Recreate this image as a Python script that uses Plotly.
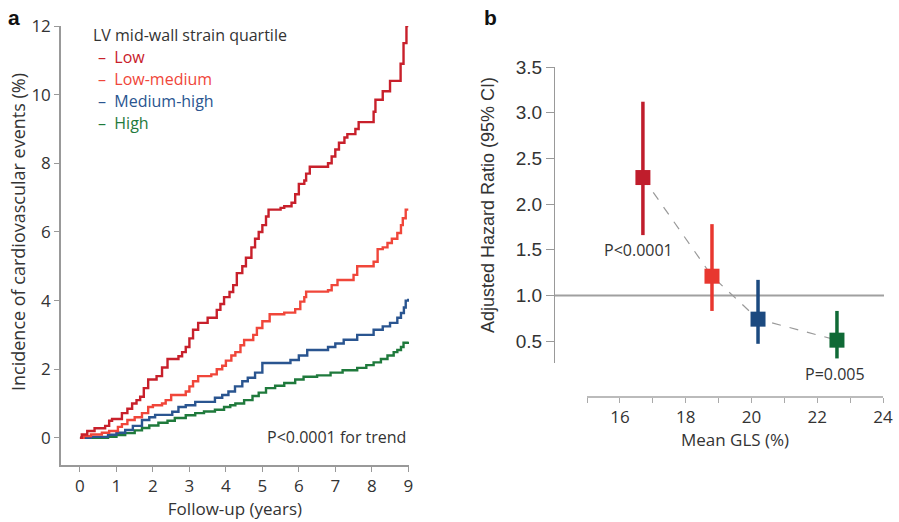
import plotly.graph_objects as go

W, H = 899, 522

# ---------------- Panel a data (Kaplan-Meier style cumulative incidence, %) -------------
low_t = [0, 0.05, 0.2, 0.4, 0.69, 0.8, 0.88, 1.15, 1.3, 1.43, 1.55, 1.65, 1.75, 1.87, 2.1, 2.25,
         2.4, 2.7, 2.8, 2.9, 3.0, 3.1, 3.24, 3.5, 3.75, 3.85, 3.95, 4.1, 4.2, 4.3, 4.45, 4.55,
         4.7, 4.8, 4.9, 5.0, 5.1, 5.17, 5.5, 5.6, 5.8, 5.9, 6.0, 6.15, 6.2, 6.3, 6.8, 6.9, 7.0,
         7.1, 7.25, 7.33, 7.55, 7.64, 8.05, 8.1, 8.3, 8.5, 8.79, 8.87, 8.95, 9.0]
low_v = [0, 0.1, 0.2, 0.28, 0.35, 0.5, 0.55, 0.72, 0.85, 1.0, 1.1, 1.2, 1.45, 1.7, 1.8, 2.05,
         2.3, 2.38, 2.5, 2.65, 2.9, 3.15, 3.35, 3.5, 3.73, 3.9, 4.1, 4.25, 4.45, 4.8, 5.0, 5.25,
         5.55, 5.8, 6.0, 6.2, 6.45, 6.65, 6.7, 6.75, 6.85, 7.1, 7.4, 7.5, 7.7, 7.9, 8.0, 8.2, 8.4,
         8.6, 8.75, 8.85, 9.0, 9.2, 9.5, 9.85, 10.1, 10.4, 10.9, 11.5, 12.0, 12.0]

lowmed_t = [0, 0.1, 0.3, 0.6, 0.8, 1.04, 1.15, 1.3, 1.5, 1.7, 1.87, 2.0, 2.25, 2.35, 2.5, 2.9,
            3.0, 3.1, 3.24, 3.6, 3.75, 3.9, 4.0, 4.15, 4.26, 4.4, 4.5, 4.75, 4.85, 5.0, 5.2,
            5.6, 5.9, 6.04, 6.15, 6.2, 6.8, 6.9, 7.06, 7.5, 7.6, 8.05, 8.16, 8.3, 8.43, 8.55,
            8.7, 8.8, 8.85, 8.93, 9.0]
lowmed_v = [0, 0.05, 0.1, 0.15, 0.2, 0.32, 0.4, 0.52, 0.6, 0.72, 0.9, 0.95, 1.0, 1.1, 1.25, 1.35,
            1.5, 1.65, 1.8, 1.85, 2.0, 2.1, 2.25, 2.4, 2.5, 2.7, 2.85, 3.0, 3.2, 3.4, 3.6,
            3.65, 3.75, 3.97, 4.1, 4.26, 4.3, 4.45, 4.6, 4.75, 5.0, 5.13, 5.5, 5.55, 5.68, 5.8,
            5.97, 6.2, 6.4, 6.65, 6.65]

medhigh_t = [0, 0.3, 0.77, 1.0, 1.24, 1.45, 1.7, 1.9, 2.06, 2.53, 2.7, 2.9, 3.16, 3.7, 3.9, 4.07,
             4.25, 4.45, 4.6, 4.8, 5.0, 5.77, 6.0, 6.23, 6.8, 7.0, 7.23, 7.6, 8.05, 8.3, 8.5,
             8.7, 8.8, 8.88, 8.93, 9.0]
medhigh_v = [0, 0.03, 0.09, 0.15, 0.23, 0.35, 0.52, 0.6, 0.67, 0.76, 0.9, 0.95, 1.05, 1.17, 1.25, 1.35,
             1.5, 1.65, 1.75, 1.9, 2.18, 2.27, 2.4, 2.56, 2.65, 2.75, 2.86, 3.0, 3.15, 3.25, 3.35,
             3.5, 3.64, 3.8, 4.0, 4.05]

high_t = [0, 0.77, 1.0, 1.24, 1.5, 1.7, 1.9, 2.15, 2.4, 2.6, 2.9, 3.16, 3.4, 3.7, 3.95, 4.12, 4.26,
          4.5, 4.73, 4.9, 5.1, 5.35, 5.6, 5.9, 6.13, 6.5, 6.87, 7.2, 7.6, 7.85, 8.05, 8.25, 8.43,
          8.6, 8.7, 8.8, 8.87, 9.0]
high_v = [0, 0.03, 0.08, 0.14, 0.22, 0.29, 0.36, 0.44, 0.5, 0.58, 0.66, 0.72, 0.77, 0.82, 0.9, 0.95, 1.0,
          1.1, 1.22, 1.32, 1.45, 1.52, 1.6, 1.7, 1.78, 1.82, 1.9, 1.97, 2.04, 2.12, 2.2, 2.3, 2.4,
          2.5, 2.56, 2.65, 2.77, 2.8]

legend_title = "LV mid-wall strain quartile"
quartiles = ["Low", "Low-medium", "Medium-high", "High"]
colors_a = ["#c8202b", "#f0463a", "#2a5590", "#1f7a3c"]

# ---------------- Panel b data ----------------
gls = [16.7, 18.8, 20.2, 22.6]
hr = [2.29, 1.21, 0.74, 0.51]
ci_low = [1.66, 0.83, 0.47, 0.31]
ci_high = [3.12, 1.78, 1.17, 0.83]
colors_b = ["#c01d2c", "#e8372f", "#1c4a80", "#106a36"]

def fx(px):
    return px / W

def fy(py):
    return 1 - py / H

fig = go.Figure()

series = [(low_t, low_v), (lowmed_t, lowmed_v), (medhigh_t, medhigh_v), (high_t, high_v)]
for (t, v), name, c in reversed(list(zip(series, quartiles, colors_a))):
    fig.add_trace(go.Scatter(x=t, y=v, mode="lines", line=dict(color=c, width=2.4, shape="hv"),
                             name=name, xaxis="x", yaxis="y", showlegend=False))

# panel b dashed connector
fig.add_trace(go.Scatter(x=gls, y=hr, mode="lines", line=dict(color="#999999", width=1.2, dash="dash"),
                         xaxis="x2", yaxis="y2", showlegend=False))
# error bars + squares
for i in range(len(gls)):
    fig.add_trace(go.Scatter(x=[gls[i], gls[i]], y=[ci_low[i], ci_high[i]], mode="lines",
                             line=dict(color=colors_b[i], width=3.5), xaxis="x2", yaxis="y2",
                             showlegend=False))
fig.add_trace(go.Scatter(x=gls, y=hr, mode="markers",
                         marker=dict(symbol="square", size=15, color=colors_b, line=dict(width=0)),
                         xaxis="x2", yaxis="y2", showlegend=False))

tickfont_a = dict(family="Open Sans", size=17, color="#333333")
tickfont_b = dict(family="Liberation Sans", size=19, color="#333333")
axis_col = "#999999"

fig.update_layout(
    width=W, height=H, margin=dict(l=0, r=0, t=0, b=0),
    paper_bgcolor="white", plot_bgcolor="white", showlegend=False,
    xaxis=dict(domain=[fx(61), fx(409)], range=[-0.52, 9.02], tickvals=list(range(10)),
               ticks="outside", ticklen=5, tickcolor=axis_col, showline=True, linecolor=axis_col,
               linewidth=1.5, showgrid=False, zeroline=False, tickfont=tickfont_a,
               title=dict(text="Follow-up (years)", font=dict(family="Open Sans", size=17, color="#333333"),
                          standoff=5),
               anchor="y", automargin=False),
    yaxis=dict(domain=[fy(465), fy(26)], range=[-0.79, 12], tickvals=list(range(0, 13, 2)),
               ticks="outside", ticklen=5, tickcolor=axis_col, showline=True, linecolor=axis_col,
               linewidth=1.5, showgrid=False, zeroline=False, tickfont=tickfont_a,
               anchor="x", automargin=False),
    xaxis2=dict(domain=[fx(587), fx(883)], range=[15, 24], tickvals=list(range(15, 25)),
                ticktext=["" if k % 2 else str(k) for k in range(15, 25)],
                ticks="outside", ticklen=5, tickcolor="#aaaaaa", showline=True, linecolor="#bbbbbb",
                linewidth=1.5, showgrid=False, zeroline=False,
                tickfont=dict(family="Open Sans", size=17, color="#333333"),
                title=dict(text="Mean GLS (%)", font=dict(family="Open Sans", size=17, color="#333333"), standoff=3),
                anchor="free", position=fy(397), automargin=False),
    yaxis2=dict(domain=[fy(363), fy(67)], range=[0.26, 3.5], tickvals=[0.5, 1.0, 1.5, 2.0, 2.5, 3.0, 3.5],
                ticktext=["0.5", "1.0", "1.5", "2.0", "2.5", "3.0", "3.5"],
                ticks="outside", ticklen=8, tickcolor=axis_col, showline=True, linecolor=axis_col,
                linewidth=1.2, showgrid=False, zeroline=False, tickfont=tickfont_b,
                anchor="free", position=fx(554), automargin=False),
)

# reference line HR = 1
fig.add_shape(type="line", xref="paper", yref="y2", x0=fx(554), x1=fx(884), y0=1.0, y1=1.0,
              line=dict(color="#a0a0a0", width=2), layer="below")

# axis titles positioned as in the reference
fig.add_annotation(xref="paper", yref="paper", x=fx(18), y=fy(232), xanchor="center", yanchor="middle",
                   text="Incidence of cardiovascular events (%)", textangle=-90, showarrow=False,
                   font=dict(family="Open Sans", size=18, color="#333333"))
fig.add_annotation(xref="paper", yref="paper", x=fx(488), y=fy(205), xanchor="center", yanchor="middle",
                   text="Adjusted Hazard Ratio (95% CI)", textangle=-90, showarrow=False,
                   font=dict(family="Liberation Sans", size=18, color="#333333"))

ann_font = dict(family="Open Sans", size=16, color="#333333")
fig.add_annotation(xref="paper", yref="paper", x=fx(6), y=fy(4), xanchor="left", yanchor="top",
                   text="<b>a</b>", showarrow=False, font=dict(family="Liberation Sans", size=21, color="#111111"))
fig.add_annotation(xref="paper", yref="paper", x=fx(482), y=fy(4), xanchor="left", yanchor="top",
                   text="<b>b</b>", showarrow=False, font=dict(family="Liberation Sans", size=21, color="#111111"))
fig.add_annotation(xref="paper", yref="paper", x=fx(91), y=fy(35), xanchor="left", yanchor="middle",
                   text=legend_title, showarrow=False, font=ann_font)
for i, (name, c) in enumerate(zip(quartiles, colors_a)):
    fig.add_annotation(xref="paper", yref="paper", x=fx(96), y=fy(57 + 22 * i), xanchor="left",
                       yanchor="middle", text="\u2013  " + name, showarrow=False,
                       font=dict(family="Open Sans", size=16, color=c))
fig.add_annotation(xref="paper", yref="paper", x=fx(408), y=fy(437), xanchor="right", yanchor="middle",
                   text="P<0.0001 for trend", showarrow=False, font=ann_font)
fig.add_annotation(xref="paper", yref="paper", x=fx(602), y=fy(250), xanchor="left", yanchor="middle",
                   text="P<0.0001", showarrow=False, font=ann_font)
fig.add_annotation(xref="paper", yref="paper", x=fx(803), y=fy(374), xanchor="left", yanchor="middle",
                   text="P=0.005", showarrow=False, font=ann_font)

fig.write_html("out.html")
